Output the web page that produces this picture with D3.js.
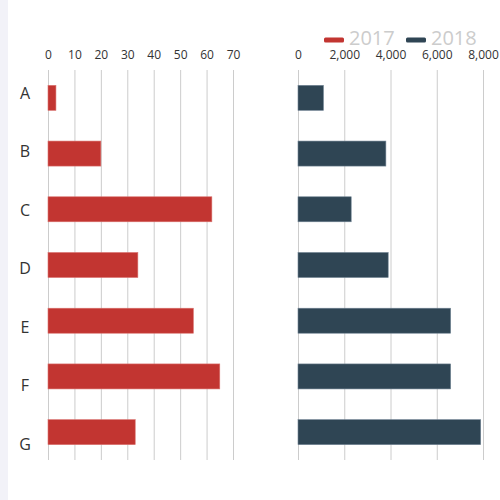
<!DOCTYPE html>
<html>
<head>
<meta charset="utf-8">
<script src="https://cdn.jsdelivr.net/npm/d3@7"></script>
<style>
  html, body { margin: 0; padding: 0; background: #fff; }
  svg { display: block; font-family: "Open Sans", "Noto Sans", sans-serif; }
</style>
</head>
<body>
<svg id="chart" width="500" height="500"></svg>
<script>
const categories = ["A", "B", "C", "D", "E", "F", "G"];
const values2017 = [3, 20, 62, 34, 55, 65, 33];
const values2018 = [1100, 3800, 2300, 3900, 6600, 6600, 7900];
const seriesNames = ["2017", "2018"];
const leftTicks = [0, 10, 20, 30, 40, 50, 60, 70];
const rightTicks = [0, 2000, 4000, 6000, 8000];
const colors = ["#c23531", "#2f4554"];

const svg = d3.select("#chart");

// left page strip
svg.append("rect").attr("x", 0).attr("y", 0).attr("width", 8).attr("height", 500).attr("fill", "#f2f2f8");

const plotTop = 70, plotBottom = 460;
const xL = d3.scaleLinear().domain([0, 70]).range([48, 233]);
const xR = d3.scaleLinear().domain([0, 8000]).range([298, 483]);
const y = d3.scaleBand().domain(categories).range([plotTop, plotBottom]);
const yLab = d3.scalePoint().domain(categories).range([92.5, 444]);
const barH = 25;

function drawAxis(scale, ticks) {
  const g = svg.append("g").attr("transform", `translate(0,${plotTop})`)
    .call(d3.axisTop(scale).tickValues(ticks).tickSize(-(plotBottom - plotTop)).tickPadding(11)
      .tickFormat(d3.format(",")));
  g.select(".domain").remove();
  g.selectAll(".tick line").attr("stroke", "#ccc");
  g.selectAll(".tick text").attr("fill", "#333").style("font-size", "12px")
    .style("font-family", '"Open Sans", "Noto Sans", sans-serif');
}
drawAxis(xL, leftTicks);
drawAxis(xR, rightTicks);

// bars
svg.append("g").selectAll("rect").data(categories).join("rect")
  .attr("x", xL(0))
  .attr("y", d => y(d) + (y.bandwidth() - barH) / 2)
  .attr("width", (d, i) => xL(values2017[i]) - xL(0))
  .attr("height", barH)
  .attr("fill", colors[0])
  .attr("stroke", "#d9716e").attr("stroke-width", 0.6);

svg.append("g").selectAll("rect").data(categories).join("rect")
  .attr("x", xR(0))
  .attr("y", d => y(d) + (y.bandwidth() - barH) / 2)
  .attr("width", (d, i) => xR(values2018[i]) - xR(0))
  .attr("height", barH)
  .attr("fill", colors[1])
  .attr("stroke", "#6f8292").attr("stroke-width", 0.6);

// category labels
svg.append("g").selectAll("text").data(categories).join("text")
  .attr("x", 25)
  .attr("y", d => yLab(d))
  .attr("text-anchor", "middle")
  .attr("dominant-baseline", "central")
  .attr("fill", "#333")
  .style("font-size", "16px")
  .text(d => d);

// legend
const legendX = [324, 406];
const lg = svg.append("g").selectAll("g").data(seriesNames).join("g")
  .attr("transform", (d, i) => `translate(${legendX[i]},0)`);
lg.append("rect").attr("x", 0).attr("y", 37.5).attr("width", 20).attr("height", 5).attr("rx", 1.5)
  .attr("fill", (d, i) => colors[i]);
lg.append("text").attr("x", 25).attr("y", 44.5).attr("fill", "#ccc")
  .style("font-size", "20px").text(d => d);
</script>
</body>
</html>
